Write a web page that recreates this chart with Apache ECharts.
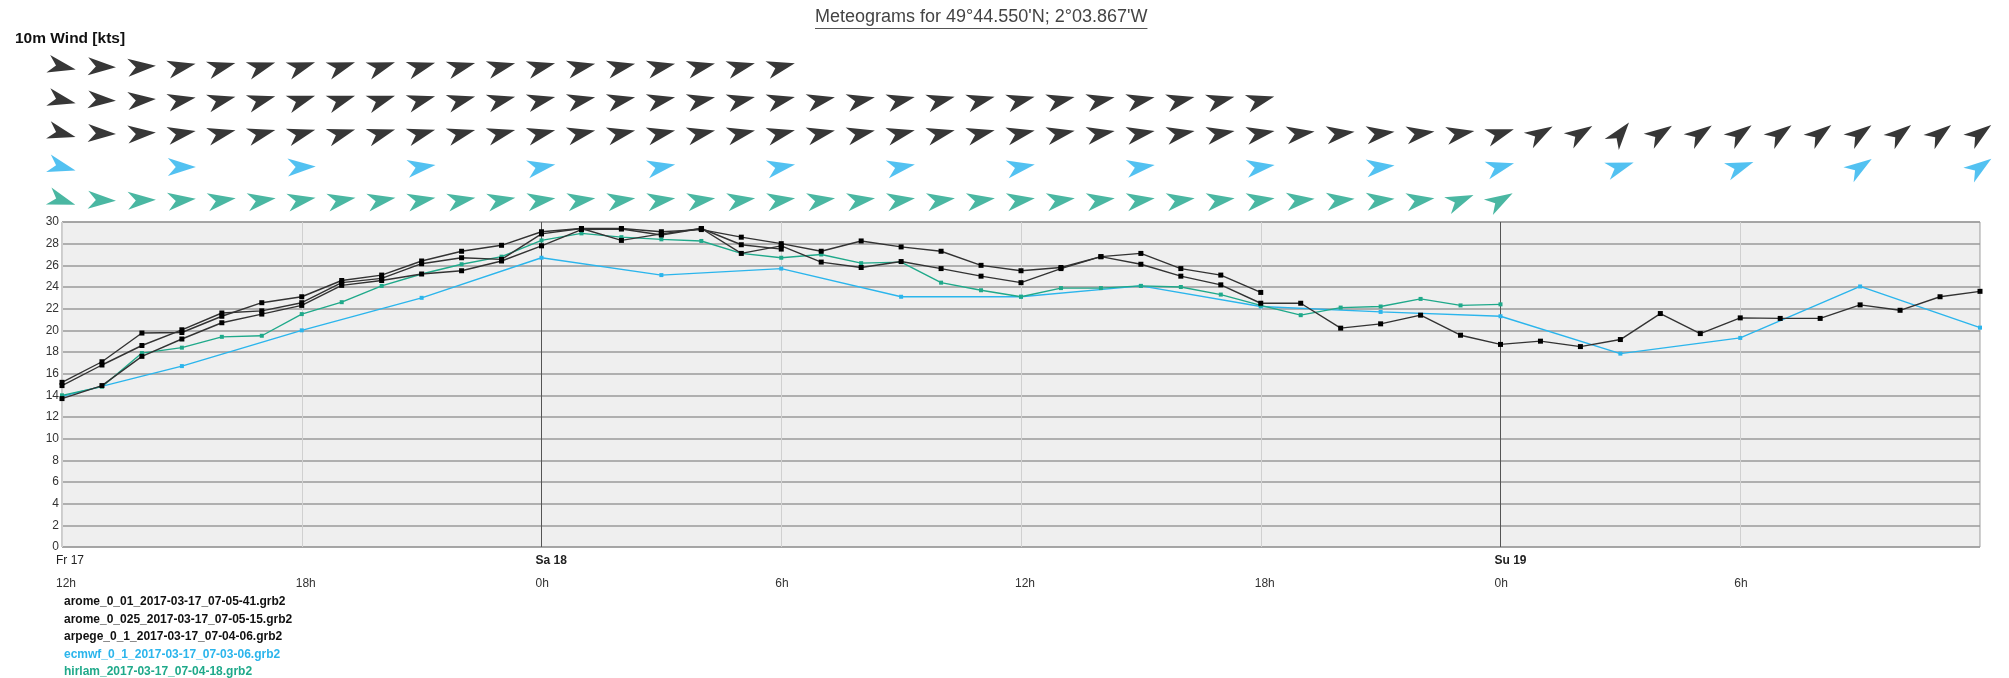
<!DOCTYPE html>
<html><head><meta charset="utf-8">
<script src="https://cdn.jsdelivr.net/npm/echarts@6/dist/echarts.min.js"></script>
<style>html,body{margin:0;padding:0;background:#fff}#c{width:2009px;height:678px}</style>
</head><body><div id="c"></div>
<script>
// ---- data (hours from Fr 17 12h) ----
const titleText = "Meteograms for 49°44.550'N; 2°03.867'W";
const panelTitle = "10m Wind [kts]";
const modelNames = [
  "arome_0_01_2017-03-17_07-05-41.grb2",
  "arome_0_025_2017-03-17_07-05-15.grb2",
  "arpege_0_1_2017-03-17_07-04-06.grb2",
  "ecmwf_0_1_2017-03-17_07-03-06.grb2",
  "hirlam_2017-03-17_07-04-18.grb2"
];
const modelStep = [1, 1, 1, 3, 1];
const yTicks = [0, 2, 4, 6, 8, 10, 12, 14, 16, 18, 20, 22, 24, 26, 28, 30];
const dayLabels = { 0: "Fr 17", 12: "Sa 18", 36: "Su 19" };

const arome001 = [15.2, 17.1, 19.75, 19.8, 21.3, 22.55, 23.1, 24.6, 25.1, 26.4, 27.3, 27.85, 29.1,
  29.4, 28.3, 28.9, 29.4, 27.9, 27.5];
const arome0025 = [14.9, 16.8, 18.6, 20.05, 21.6, 21.8, 22.55, 24.4, 24.8, 26.15, 26.7, 26.55, 28.9,
  29.4, 29.4, 29.1, 29.3, 28.6, 28.0, 27.3, 28.25, 27.7, 27.3, 26.0, 25.5,
  25.8, 26.8, 27.1, 25.7, 25.1, 23.5];
const arpege = [13.7, 14.9, 17.6, 19.2, 20.7, 21.5, 22.3, 24.15, 24.6, 25.2, 25.5, 26.4, 27.8,
  29.3, 29.35, 28.8, 29.4, 27.1, 27.8, 26.3, 25.8, 26.35, 25.7, 25.0, 24.4,
  25.7, 26.8, 26.1, 25.0, 24.2, 22.5, 22.5, 20.2, 20.6, 21.4, 19.55, 18.7,
  19.0, 18.5, 19.15, 21.55, 19.7, 21.15, 21.1, 21.1, 22.35, 21.85, 23.1, 23.6];
const ecmwf = [13.9, 16.7, 20.0, 23.0, 26.7, 25.1, 25.7, 23.1, 23.1, 24.1, 22.2, 21.7, 21.3,
  17.85, 19.3, 24.05, 20.25];
const hirlam = [14.0, 14.8, 17.9, 18.4, 19.4, 19.5, 21.5, 22.6, 24.1, 25.2, 26.1, 26.8, 28.3,
  28.95, 28.6, 28.4, 28.25, 27.1, 26.7, 27.0, 26.2, 26.3, 24.4, 23.7, 23.1,
  23.9, 23.9, 24.1, 24.0, 23.3, 22.3, 21.4, 22.1, 22.2, 22.9, 22.3, 22.4];

// wind direction (degrees, meteorological "from")
const dirArome001 = [282, 272, 266, 258, 255, 253, 252, 252, 252, 254, 255, 256, 256, 258, 258, 258, 257, 256, 256];
const dirArome0025 = [283, 273, 266, 259, 256, 254, 252, 252, 252, 254, 255, 256, 257, 258, 258, 258, 258, 257, 257,
  258, 258, 257, 256, 256, 256, 257, 258, 258, 257, 256, 255];
const dirArpege = [285, 272, 266, 260, 257, 255, 254, 253, 253, 254, 255, 256, 257,
  258, 258, 258, 258, 258, 257, 258, 258, 257, 257, 257, 258,
  259, 260, 260, 260, 260, 260, 262, 263, 263, 262, 260, 252,
  240, 238, 218, 236, 235, 234, 234, 233, 234, 232, 232, 233];
const dirEcmwf = [285, 270, 268, 262, 260, 260, 260, 260, 260, 262, 262, 264, 255, 252, 250, 236, 234];
const dirHirlam = [288, 272, 268, 264, 262, 262, 260, 260, 260, 260, 260, 260, 262, 262, 262, 262, 262, 262, 262,
  262, 262, 262, 262, 262, 262, 262, 262, 262, 262, 262, 262, 264, 264, 264, 262, 248, 240];

// ---- styling ----
const speedSeries = [arome001, arome0025, arpege, ecmwf, hirlam];
const dirSeries = [dirArome001, dirArome0025, dirArpege, dirEcmwf, dirHirlam];
const lineColors = ['#333333', '#333333', '#333333', '#2bb5ec', '#1fa98a'];
const markColors = ['#000000', '#000000', '#000000', '#2bb5ec', '#1fa98a'];
const arrowColors = ['#050505', '#050505', '#050505', '#27b2ee', '#1da58b'];
const ARROW = 'path://M0,0 L32,10 L0,20 L9,10 Z';
const FONT = '"Liberation Sans", Arial, sans-serif';

const chart = echarts.init(document.getElementById('c'));

const series = [];
speedSeries.forEach((vals, k) => {
  series.push({
    name: modelNames[k], type: 'line', xAxisIndex: 0, yAxisIndex: 0,
    data: vals.map((v, i) => [i * modelStep[k], v]),
    symbol: 'rect', symbolSize: k < 3 ? 5 : 4,
    lineStyle: { color: lineColors[k], width: 1.4 },
    itemStyle: { color: markColors[k] },
    z: k < 3 ? 4 : 3, animation: false
  });
});
dirSeries.forEach((dirs, k) => {
  series.push({
    name: 'dir' + k, type: 'scatter', xAxisIndex: 1, yAxisIndex: 1,
    symbol: ARROW, symbolSize: [28, 18],
    itemStyle: { color: arrowColors[k] },
    data: dirs.map((d, i) => {
      const bearing = (d + 180) % 360;
      return { value: [i * modelStep[k], k], symbolRotate: 90 - bearing };
    }),
    animation: false, silent: true
  });
});

// measure title for underline
const cv = document.createElement('canvas').getContext('2d');
cv.font = '18px ' + FONT;
const tw = cv.measureText(titleText).width;
const tx = 815;

chart.setOption({
  backgroundColor: '#ffffff',
  animation: false,
  textStyle: { fontFamily: FONT },
  graphic: [
    { type: 'text', left: tx, top: 8, style: { text: titleText, fontSize: 18, fill: '#444', fontFamily: FONT } },
    { type: 'line', shape: { x1: tx, y1: 28.5, x2: tx + tw, y2: 28.5 }, style: { stroke: '#555', lineWidth: 1 } },
    { type: 'text', left: 15, top: 31, style: { text: panelTitle, fontSize: 15.5, fontWeight: 'bold', fill: '#111', fontFamily: FONT } }
  ],
  legend: {
    orient: 'vertical', left: 62, top: 596, height: 90, padding: 0,
    itemWidth: 0, itemHeight: 12, itemGap: 5.5,
    icon: 'rect', selectedMode: false,
    data: modelNames.map((n, k) => ({ name: n, textStyle: { color: k < 3 ? '#111' : markColors[k] } })),
    textStyle: { fontSize: 12, fontWeight: 'bold', padding: [0, 0, 0, -3] }
  },
  grid: [
    { left: 62, right: 29, top: 222, bottom: 131, show: true, backgroundColor: '#efefef', borderColor: '#999', borderWidth: 1 },
    { left: 62, right: 29, top: 50, height: 167 }
  ],
  xAxis: [
    {
      type: 'value', gridIndex: 0, min: 0, max: 48, interval: 6,
      axisLine: { show: false }, axisTick: { show: false },
      splitLine: { show: true, lineStyle: { color: ['#d0d0d0', '#d0d0d0', '#555555', '#d0d0d0'], width: 1 } },
      axisLabel: {
        showMaxLabel: false, margin: 2, align: 'left',
        formatter: function (v) {
          if (v >= 48) return '';
          const day = dayLabels[v];
          const hr = ((12 + v) % 24) + 'h';
          let top;
          if (!day) top = '{d| }';
          else if (v === 0) top = '{dn|' + day + '}';
          else top = '{d|' + day + '}';
          return top + '\n{h|' + hr + '}';
        },
        rich: {
          d: { fontSize: 12, fontWeight: 'bold', color: '#222', lineHeight: 23, padding: [0, 0, 0, -6] },
          dn: { fontSize: 12, color: '#222', lineHeight: 23, padding: [0, 0, 0, -6] },
          h: { fontSize: 12, color: '#333', lineHeight: 23, padding: [0, 0, 0, -6] }
        }
      }
    },
    { type: 'value', gridIndex: 1, min: 0, max: 48, show: false, splitLine: { show: false } }
  ],
  yAxis: [
    {
      type: 'value', gridIndex: 0, min: 0, max: 30, interval: 2,
      axisLine: { show: false }, axisTick: { show: false },
      axisLabel: { fontSize: 12, color: '#333', margin: 3 },
      splitLine: { show: true, lineStyle: { color: '#9a9a9a', width: 1.6 } }
    },
    { type: 'category', gridIndex: 1, data: ['0', '1', '2', '3', '4'], inverse: true, show: false }
  ],
  series: series
});
</script>
</body></html>
